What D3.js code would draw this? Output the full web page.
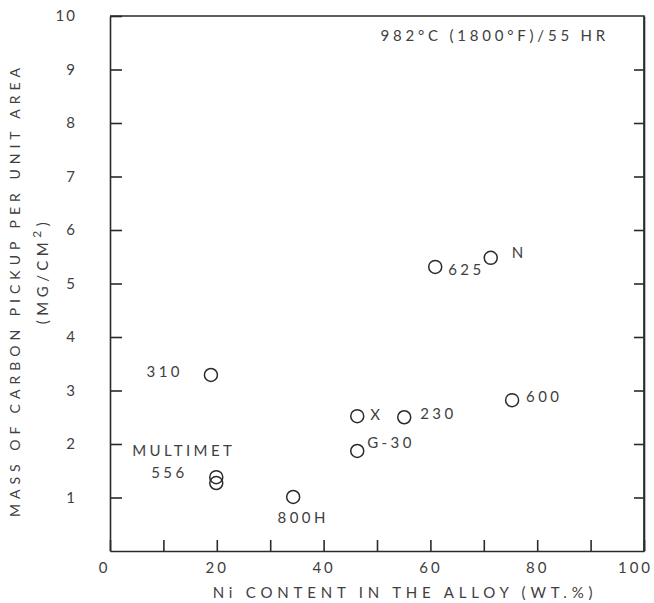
<!DOCTYPE html>
<html>
<head>
<meta charset="utf-8">
<script src="https://cdn.jsdelivr.net/npm/d3@7"></script>
<style>
  body { margin: 0; background: #fff; }
  svg text { font-family: Lato, "Open Sans", sans-serif; fill: #404040; }
  .axis path, .axis line { stroke: #2a2a2a; stroke-width: 1.6; }
</style>
</head>
<body>
<div id="chart"></div>
<script>
//Chart data
var alloyNames = ["310", "MULTIMET 556", "MULTIMET 556", "800H", "X", "G-30", "230", "625", "N", "600"];
var niContent = [18.9, 19.9, 19.9, 34.3, 46.3, 46.3, 55.1, 60.9, 71.3, 75.3];
var carbonPickup = [3.29, 1.38, 1.27, 1.01, 2.52, 1.87, 2.50, 5.31, 5.48, 2.82];
var pointLabels = [["310"], ["MULTIMET", "556"], [], ["800H"], ["X"], ["G-30"], ["230"], ["625"], ["N"], ["600"]];
var xTickValues = [0, 10, 20, 30, 40, 50, 60, 70, 80, 90, 100];
var xLabelValues = [0, 20, 40, 60, 80, 100];
var yTickValues = [1, 2, 3, 4, 5, 6, 7, 8, 9, 10];
var conditionText = "982°C (1800°F)/55 HR";
var xTitle = "Ni CONTENT IN THE ALLOY (WT.%)";
var yTitle = "MASS OF CARBON PICKUP PER UNIT AREA";

//Label placement relative to each circle: [anchor, dx, dy, line gap]
var labelLayout = [
  ["end", -28, 2, 0],
  ["start", -84, -21, 22],
  ["start", 0, 0, 0],
  ["middle", 10, 26, 0],
  ["start", 13, 4, 0],
  ["start", 10, -3, 0],
  ["start", 16, 2, 0],
  ["start", 13, 8, 0],
  ["start", 21, 0, 0],
  ["start", 14, 2, 0]
];

var width = 654, height = 603;
var margin = {top: 16, right: 10, bottom: 52, left: 110};
var plotW = width - margin.left - margin.right,
    plotH = height - margin.top - margin.bottom;

var x = d3.scaleLinear().domain([0, 100]).range([0, plotW]);
var y = d3.scaleLinear().domain([0, 10]).range([plotH, 0]);

var svg = d3.select("#chart").append("svg")
    .attr("width", width)
    .attr("height", height)
  .append("g")
    .attr("transform", "translate(" + margin.left + "," + margin.top + ")");

//Frame (top and right edges)
svg.append("path")
    .attr("d", "M" + x(0) + "," + y(10) + "H" + x(100) + "V" + y(0))
    .attr("fill", "none")
    .attr("stroke", "#2a2a2a")
    .attr("stroke-width", 1.6);

//Bottom axis: inward ticks every 10, labels every 20
var xAxis = svg.append("g")
    .attr("class", "axis x-axis")
    .attr("transform", "translate(0," + plotH + ")")
    .call(d3.axisBottom(x)
      .tickValues(xTickValues)
      .tickSizeInner(-11)
      .tickSizeOuter(0)
      .tickPadding(11)
      .tickFormat(function(d) { return xLabelValues.indexOf(d) > -1 ? d : ""; }));

xAxis.selectAll("text")
    .attr("font-size", 15)
    .attr("letter-spacing", 3)
    .attr("dx", function(d) { return d === 100 ? -9 : (d === 0 ? -6 : 0); });

//Left axis
var yAxis = svg.append("g")
    .attr("class", "axis y-axis")
    .call(d3.axisLeft(y)
      .tickValues(yTickValues)
      .tickSizeInner(-12)
      .tickSizeOuter(0)
      .tickPadding(33));

yAxis.selectAll("text")
    .attr("font-size", 15)
    .attr("letter-spacing", 2);

//Right axis, ticks only
svg.append("g")
    .attr("class", "axis y-axis-right")
    .attr("transform", "translate(" + plotW + ",0)")
    .call(d3.axisRight(y)
      .tickValues(yTickValues.slice(0, 9))
      .tickSizeInner(-10)
      .tickSizeOuter(0)
      .tickFormat(""));

svg.selectAll(".axis .domain").attr("stroke", "#2a2a2a").attr("stroke-width", 1.6);

//Points
svg.selectAll(".pt")
    .data(niContent)
  .enter().append("circle")
    .attr("class", "pt")
    .attr("cx", function(d) { return x(d); })
    .attr("cy", function(d, i) { return y(carbonPickup[i]); })
    .attr("r", 6.5)
    .attr("fill", "none")
    .attr("stroke", "#2a2a2a")
    .attr("stroke-width", 1.5);

//Point labels
pointLabels.forEach(function(lines, i) {
  var lay = labelLayout[i];
  lines.forEach(function(line, j) {
    svg.append("text")
        .attr("x", x(niContent[i]) + lay[1] + (j > 0 ? 19 : 0))
        .attr("y", y(carbonPickup[i]) + lay[2] + j * lay[3])
        .attr("text-anchor", lay[0])
        .attr("font-size", 15)
        .attr("letter-spacing", 3.4)
        .text(line);
  });
});

//Test condition note
svg.append("text")
    .attr("x", x(100) - 35)
    .attr("y", 25)
    .attr("text-anchor", "end")
    .attr("font-size", 15)
    .attr("letter-spacing", 3.8)
    .text(conditionText);

//X axis title
svg.append("text")
    .attr("x", 295)
    .attr("y", plotH + 47)
    .attr("text-anchor", "middle")
    .attr("font-size", 15)
    .attr("letter-spacing", 4.8)
    .text(xTitle);

//Y axis titles
svg.append("text")
    .attr("transform", "translate(" + (20 - margin.left) + "," + (290 - margin.top) + ") rotate(-90)")
    .attr("text-anchor", "middle")
    .attr("font-size", 14)
    .attr("letter-spacing", 5)
    .text(yTitle);

var unitText = svg.append("text")
    .attr("transform", "translate(" + (48 - margin.left) + "," + (271 - margin.top) + ") rotate(-90)")
    .attr("text-anchor", "middle")
    .attr("font-size", 15)
    .attr("letter-spacing", 4.5);
unitText.append("tspan").text("(MG/CM");
unitText.append("tspan").attr("font-size", 12).attr("dy", -7).text("2");
unitText.append("tspan").attr("dy", 7).text(")");
</script>
</body>
</html>
